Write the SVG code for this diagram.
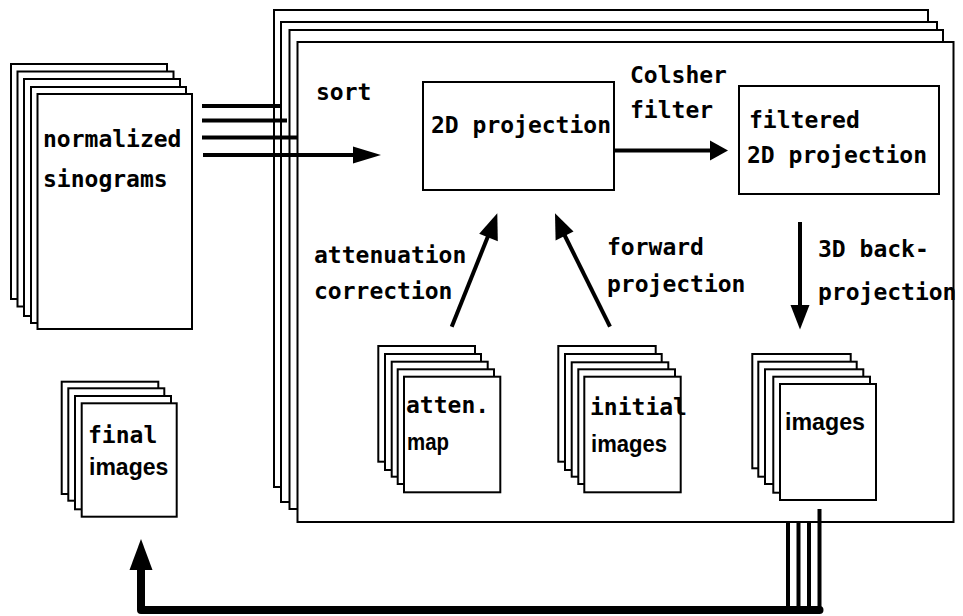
<svg xmlns="http://www.w3.org/2000/svg" width="963" height="616" viewBox="0 0 963 616">
<style>
  .sheet { fill: #fff; stroke: #000; stroke-width: 2; }
  .box { fill: #fff; stroke: #000; stroke-width: 2; }
  .mono { font-family: "DejaVu Sans Mono", "Liberation Mono", monospace; font-size: 23px; font-weight: bold; fill: #000; }
  .prop { font-family: "Liberation Sans", Arial, sans-serif; font-size: 23px; font-weight: bold; fill: #000; }
  .line { stroke: #000; stroke-width: 4; fill: none; }
  .thick { stroke: #000; stroke-width: 8; fill: none; stroke-linejoin: round; stroke-linecap: round; }
  .head { fill: #000; }
</style>
<rect width="963" height="616" fill="#fff"/>

<g id="reconstruction-frames">
  <rect class="sheet" x="274" y="10" width="654" height="477"/>
  <rect class="sheet" x="281" y="22" width="656" height="480"/>
  <rect class="sheet" x="289.5" y="30" width="653.5" height="479"/>
  <rect class="sheet" x="297.5" y="42" width="656" height="480"/>
</g>

<g id="normalized-sinograms">
  <rect class="sheet" x="11" y="64" width="156" height="235"/>
  <rect class="sheet" x="17.5" y="71.5" width="156" height="235"/>
  <rect class="sheet" x="24" y="79" width="156" height="237"/>
  <rect class="sheet" x="31" y="87" width="155" height="236"/>
  <rect class="sheet" x="37.5" y="94" width="154.5" height="235"/>
  <text class="mono" x="43" y="147">normalized</text>
  <text class="mono" x="43" y="187">sinograms</text>
</g>

<g id="final-images">
  <rect class="sheet" x="61.7" y="381.7" width="96.6" height="112.3"/>
  <rect class="sheet" x="68.3" y="388.3" width="96" height="112.4"/>
  <rect class="sheet" x="75" y="396" width="96" height="113.3"/>
  <rect class="sheet" x="81.7" y="403.3" width="95" height="113.4"/>
  <text class="mono" x="88" y="443">final</text>
  <text class="prop" x="89" y="475">images</text>
</g>

<g id="sort-label">
  <text class="mono" x="316" y="100">sort</text>
</g>

<g id="projection-2d">
  <rect class="box" x="423" y="82" width="191" height="108"/>
  <text class="mono" x="431" y="133">2D projection</text>
</g>

<g id="colsher-label">
  <text class="mono" x="630" y="83">Colsher</text>
  <text class="mono" x="630" y="118">filter</text>
</g>

<g id="filtered-projection">
  <rect class="box" x="739" y="86" width="200" height="108"/>
  <text class="mono" x="749" y="128">filtered</text>
  <text class="mono" x="747" y="163">2D projection</text>
</g>

<g id="attenuation-label">
  <text class="mono" x="314" y="263">attenuation</text>
  <text class="mono" x="314" y="299">correction</text>
</g>

<g id="forward-label">
  <text class="mono" x="607" y="255">forward</text>
  <text class="mono" x="607" y="292">projection</text>
</g>

<g id="backprojection-label">
  <text class="mono" x="818" y="257">3D back-</text>
  <text class="mono" x="818" y="300">projection</text>
</g>

<g id="atten-map">
  <rect class="sheet" x="378.3" y="346" width="96.7" height="115.7"/>
  <rect class="sheet" x="385" y="354" width="96" height="116"/>
  <rect class="sheet" x="391.7" y="361.7" width="96" height="115"/>
  <rect class="sheet" x="397.7" y="369.3" width="96.3" height="114.7"/>
  <rect class="sheet" x="404" y="376.7" width="96.3" height="115.6"/>
  <text class="mono" x="406" y="413">atten.</text>
  <text class="prop" x="407" y="450" textLength="42" lengthAdjust="spacingAndGlyphs">map</text>
</g>

<g id="initial-images">
  <rect class="sheet" x="558.3" y="346" width="97.4" height="115.7"/>
  <rect class="sheet" x="565" y="354" width="96.7" height="116"/>
  <rect class="sheet" x="571.7" y="362.3" width="96.6" height="114.4"/>
  <rect class="sheet" x="578.3" y="369.3" width="96.7" height="114.7"/>
  <rect class="sheet" x="584.3" y="376.7" width="96.4" height="115.6"/>
  <text class="mono" x="590" y="415">initial</text>
  <text class="prop" x="591" y="452" textLength="76" lengthAdjust="spacingAndGlyphs">images</text>
</g>

<g id="images">
  <rect class="sheet" x="752.3" y="354" width="98.4" height="114.3"/>
  <rect class="sheet" x="758.3" y="361.7" width="98.4" height="115"/>
  <rect class="sheet" x="765" y="369.3" width="98.3" height="114.7"/>
  <rect class="sheet" x="773.3" y="376.7" width="96.7" height="116"/>
  <rect class="sheet" x="780" y="384" width="96" height="116"/>
  <text class="prop" x="785" y="430" textLength="80" lengthAdjust="spacingAndGlyphs">images</text>
</g>

<g id="connectors">
  <!-- sinograms into frames -->
  <line class="line" x1="202" y1="106" x2="280" y2="106"/>
  <line class="line" x1="202" y1="120.5" x2="287" y2="120.5"/>
  <line class="line" x1="202" y1="137.5" x2="298" y2="137.5"/>
  <line class="line" x1="203" y1="155" x2="356" y2="155"/>
  <polygon class="head" points="381,155 353,146.5 353,163.5"/>
  <!-- Colsher filter -->
  <line class="line" x1="615" y1="150.5" x2="712" y2="150.5"/>
  <polygon class="head" points="728,150.5 710,140.5 710,160.5"/>
  <!-- 3D back-projection -->
  <line class="line" x1="800" y1="222" x2="800" y2="307"/>
  <polygon class="head" points="800,329.5 790.5,305 809.5,305"/>
  <!-- attenuation correction -->
  <line class="line" x1="451.7" y1="326.7" x2="488.5" y2="235"/>
  <polygon class="head" points="497.3,213.3 479.2,233.8 497.8,241.2"/>
  <!-- forward projection -->
  <line class="line" x1="610" y1="326.7" x2="564.5" y2="235"/>
  <polygon class="head" points="555,213.3 555.6,240.5 573.5,231.6"/>
  <!-- output to final images -->
  <line class="line" x1="788" y1="523" x2="788" y2="610"/>
  <line class="line" x1="798.5" y1="523" x2="798.5" y2="610"/>
  <line class="line" x1="809" y1="523" x2="809" y2="610"/>
  <line class="line" x1="819.5" y1="509" x2="819.5" y2="610"/>
  <polyline class="thick" points="819.5,610 141,610 141,568"/>
  <polygon class="head" points="141,539 129.5,570 152.5,570"/>
</g>
</svg>
